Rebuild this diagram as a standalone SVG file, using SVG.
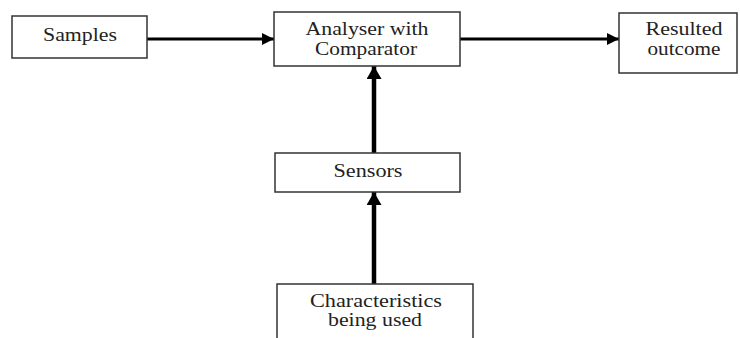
<svg xmlns="http://www.w3.org/2000/svg" width="740" height="338" viewBox="0 0 740 338">
<style>
.box{fill:#fff;stroke:#333;stroke-width:1.5}
.t{font-family:"Liberation Serif","Times New Roman",serif;font-size:18px;fill:#222;text-anchor:middle}
.c{stroke:#000;fill:none}
</style>
<defs>
<marker id="ah" viewBox="0 0 12 12" refX="12" refY="6" markerWidth="12" markerHeight="12" markerUnits="userSpaceOnUse" orient="auto">
<path d="M0,0 L12,6 L0,12 Z" fill="#000"/>
</marker>
<marker id="av" viewBox="0 0 13 15" refX="13" refY="7.5" markerWidth="13" markerHeight="15" markerUnits="userSpaceOnUse" orient="auto">
<path d="M0,0 L13,7.5 L0,15 Z" fill="#000"/>
</marker>
</defs>
<rect width="740" height="338" fill="#fff"/>
<g id="connectors">
<line class="c" x1="147" y1="39" x2="274" y2="39" stroke-width="3" marker-end="url(#ah)"/>
<line class="c" x1="460" y1="39" x2="619" y2="39" stroke-width="3" marker-end="url(#ah)"/>
<line class="c" x1="374" y1="153" x2="374" y2="66" stroke-width="4.5" marker-end="url(#av)"/>
<line class="c" x1="374" y1="284" x2="374" y2="192" stroke-width="4.5" marker-end="url(#av)"/>
</g>
<g id="samples">
<rect class="box" x="12" y="16" width="135" height="42"/>
<text class="t" x="80" y="41" textLength="74" lengthAdjust="spacingAndGlyphs">Samples</text>
</g>
<g id="analyser">
<rect class="box" x="274" y="12" width="186" height="54"/>
<text class="t" x="367" y="35" textLength="123" lengthAdjust="spacingAndGlyphs">Analyser with</text>
<text class="t" x="366" y="55" textLength="102" lengthAdjust="spacingAndGlyphs">Comparator</text>
</g>
<g id="resulted">
<rect class="box" x="619" y="13" width="118" height="60"/>
<text class="t" x="684" y="35" textLength="77" lengthAdjust="spacingAndGlyphs">Resulted</text>
<text class="t" x="684" y="55" textLength="73" lengthAdjust="spacingAndGlyphs">outcome</text>
</g>
<g id="sensors">
<rect class="box" x="275" y="153" width="185" height="39"/>
<text class="t" x="368" y="177" textLength="69" lengthAdjust="spacingAndGlyphs">Sensors</text>
</g>
<g id="characteristics">
<rect class="box" x="277" y="284" width="196" height="60"/>
<text class="t" x="376" y="307" textLength="132" lengthAdjust="spacingAndGlyphs">Characteristics</text>
<text class="t" x="375" y="326" textLength="94" lengthAdjust="spacingAndGlyphs">being used</text>
</g>
</svg>
